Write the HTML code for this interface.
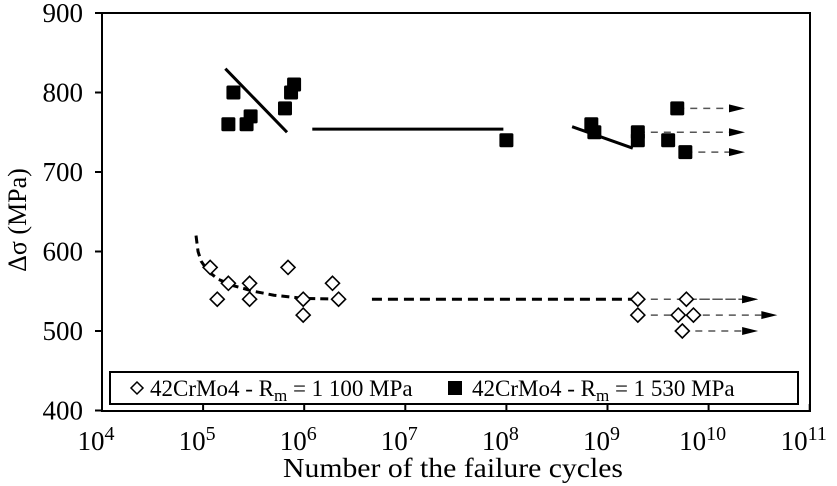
<!DOCTYPE html>
<html><head><meta charset="utf-8"><style>
body{margin:0;background:#fff}
svg{display:block;font-family:"Liberation Serif",serif}
</style></head><body>
<svg id="c" width="837" height="486"></svg>
<script>
const xTicks=[4,5,6,7,8,9,10,11];
const yTicks=[400,500,600,700,800,900];
const sqX=[5.25,5.30,5.43,5.47,5.81,5.87,5.90,8.0,8.84,8.87,9.3,9.3,9.6,9.69,9.77];
const sqY=[760,800,760,770,780,800,810,740,760,750,750,740,740,780,725];
const dmX=[5.07,5.14,5.25,5.46,5.46,5.84,5.99,5.99,6.28,6.34,9.3,9.3,9.78,9.7,9.85,9.74];
const dmY=[580,540,560,560,540,580,540,520,560,540,540,520,540,520,520,500];
const sqArrowFromX=[9.69,9.3,9.77];
const sqArrowY=[780,750,725];
const sqArrowToX=[10.36,10.36,10.36];
const dmArrowFromX=[9.3,9.78,9.3,9.74];
const dmArrowY=[540,540,520,500];
const dmArrowToX=[10.49,10.49,10.68,10.49];
const fit1X=[5.22,5.83], fit1Y=[830,750];
const fit2X=[6.08,7.97], fit2Y=[754,754];
const fit3X=[8.65,9.25], fit3Y=[757,730];
const curveX=[4.93,4.95,4.98,5.05,5.15,5.3,5.5,5.7,6.0,6.4];
const curveY=[620,600,588,575,565,557,550,545,541,540];
const flatX=[6.67,9.3], flatY=[540,540];

const X0=102,DEC=101.1,Y0=410.5,PER=0.795;
const sx=l=>X0+(l-4)*DEC, sy=v=>Y0-(v-400)*PER;
const svg=document.getElementById('c');
const NS='http://www.w3.org/2000/svg';
function mk(t,a,p){const e=document.createElementNS(NS,t);for(const k in a)e.setAttribute(k,a[k]);(p||svg).appendChild(e);return e;}

let e=mk('rect',{x:102,y:13,width:708,height:398,fill:'none',stroke:'#000','stroke-width':2});


xTicks.forEach(t=>{
 const x=sx(t);
 mk('line',{x1:x,y1:411,x2:x,y2:404,stroke:'#000','stroke-width':2});
 const g=mk('text',{x:x-6,y:450,'text-anchor':'middle','font-size':27});
 
 g.textContent='10';const s=mk('tspan',{dy:-10,'font-size':20},g);s.textContent=t;
});
yTicks.forEach(t=>{
 const y=sy(t);
 mk('line',{x1:95,y1:y,x2:102,y2:y,stroke:'#000','stroke-width':2});
 const g=mk('text',{x:83,y:y+9,'text-anchor':'end','font-size':27});
 
 g.textContent=t;
});
e=mk('text',{x:283,y:477,'font-size':27,textLength:340,lengthAdjust:'spacingAndGlyphs'});

e.textContent='Number of the failure cycles';
e=mk('text',{x:0,y:0,'text-anchor':'middle','font-size':26,transform:'translate(26,220) rotate(-90)'});

e.textContent='Δσ (MPa)';

function poly(xs,ys,attrs,name){const p=xs.map((x,i)=>sx(x)+','+sy(ys[i])).join(' ');
 const el=mk('polyline',Object.assign({points:p,fill:'none',stroke:'#000'},attrs));
 }
poly(fit1X,fit1Y,{'stroke-width':3},'fit-line-1530-a');
poly(fit2X,fit2Y,{'stroke-width':3},'fit-line-1530-b');
poly(fit3X,fit3Y,{'stroke-width':3},'fit-line-1530-c');
poly(curveX,curveY,{'stroke-width':3,'stroke-dasharray':'8,5'},'fit-curve-1100');
poly(flatX,flatY,{'stroke-width':3,'stroke-dasharray':'10,6'},'fit-line-1100');

function arrow(x1,x2,y,name){
 const a=sx(x1),b=sx(x2),yy=sy(y);
 const l=mk('line',{x1:a,y1:yy,x2:b-16,y2:yy,stroke:'#555','stroke-width':1.5,'stroke-dasharray':'7,6'});
 
 const h=mk('polygon',{points:`${b-16},${yy-4} ${b},${yy} ${b-16},${yy+4}`,fill:'#000'});
 
}
sqArrowFromX.forEach((x,i)=>arrow(x,sqArrowToX[i],sqArrowY[i],'runout-arrow-1530'));
dmArrowFromX.forEach((x,i)=>arrow(x,dmArrowToX[i],dmArrowY[i],'runout-arrow-1100'));

sqX.forEach((x,i)=>{const el=mk('rect',{x:sx(x)-7,y:sy(sqY[i])-7,width:14,height:14,rx:1.5,fill:'#000'});
 });
dmX.forEach((x,i)=>{const cx=sx(x),cy=sy(dmY[i]);
 const el=mk('polygon',{points:`${cx},${cy-7} ${cx+7},${cy} ${cx},${cy+7} ${cx-7},${cy}`,fill:'#fff',stroke:'#000','stroke-width':1.6});
 });

const lg=mk('g',{});
mk('rect',{x:110,y:372,width:688,height:32,fill:'#fff',stroke:'#000','stroke-width':2},lg);
mk('polygon',{points:'137,382 143,388 137,394 131,388',fill:'#fff',stroke:'#000','stroke-width':1.5},lg);
let t=mk('text',{x:150,y:396,'font-size':23},lg);
t.innerHTML='42CrMo4 - R<tspan font-size="17" dy="5">m</tspan><tspan dy="-5"> = 1 100 MPa</tspan>';
mk('rect',{x:448,y:381,width:14,height:14,fill:'#000'},lg);
t=mk('text',{x:472,y:396,'font-size':23},lg);
t.innerHTML='42CrMo4 - R<tspan font-size="17" dy="5">m</tspan><tspan dy="-5"> = 1 530 MPa</tspan>';
</script>
</body></html>
